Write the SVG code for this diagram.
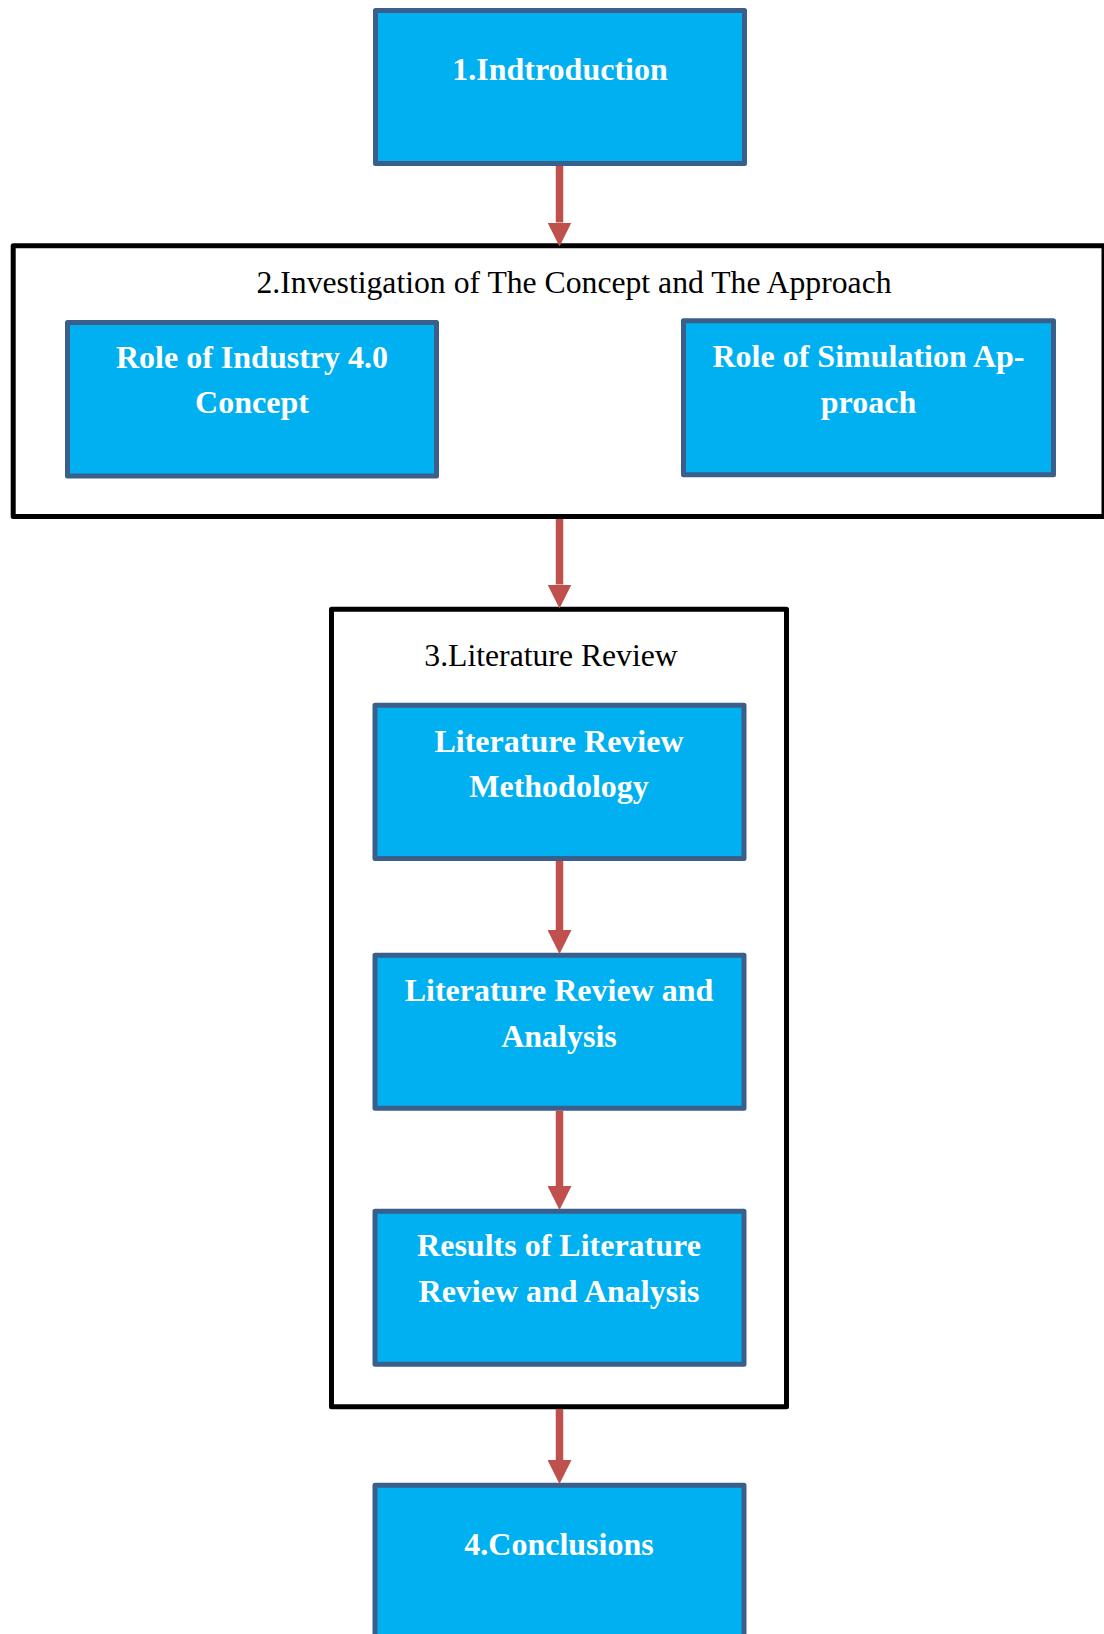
<svg xmlns="http://www.w3.org/2000/svg" width="1104" height="1634" viewBox="0 0 1104 1634">
  <style>
    .box { fill: #00B0F0; stroke: #3A5F8B; stroke-width: 5; stroke-linejoin: round; }
    .frame { fill: #FFFFFF; stroke: #000000; stroke-width: 5; stroke-linejoin: round; }
    .lbl { font-family: "Liberation Serif", "Times New Roman", serif; font-weight: bold; font-size: 32px; fill: #FFFFFF; text-anchor: middle; }
    .ttl { font-family: "Liberation Serif", "Times New Roman", serif; font-size: 31.7px; fill: #000000; }
    .conn { stroke: #C0504D; stroke-width: 7.5; fill: none; }
  </style>
  <defs>
    <marker id="head" markerUnits="userSpaceOnUse" markerWidth="24" markerHeight="24" viewBox="0 0 24 24" refX="0" refY="12" orient="auto">
      <path d="M0,0 L24,12 L0,24 Z" fill="#C0504D"/>
    </marker>
  </defs>
  <rect width="1104" height="1634" fill="#FFFFFF"/>

  <!-- section frames -->
  <g id="section-2">
    <rect class="frame" x="13.2" y="245.8" width="1090.8" height="270.7"/>
    <text class="ttl" x="256.5" y="293.3">2.Investigation of The Concept and The Approach</text>
  </g>
  <g id="section-3">
    <rect class="frame" x="331.5" y="609.2" width="455" height="797.6"/>
    <text class="ttl" x="551" y="665.7" text-anchor="middle">3.Literature Review</text>
  </g>

  <!-- nodes -->
  <g id="introduction">
    <rect class="box" x="375.5" y="10.5" width="369" height="153"/>
    <text class="lbl" x="560" y="80">1.Indtroduction</text>
  </g>
  <g id="industry-concept">
    <rect class="box" x="67.5" y="322.5" width="369" height="153.5"/>
    <text class="lbl" x="252" y="368.3">Role of Industry 4.0</text>
    <text class="lbl" x="252" y="413.3">Concept</text>
  </g>
  <g id="simulation-approach">
    <rect class="box" x="683.5" y="320.8" width="370" height="154"/>
    <text class="lbl" x="868.5" y="366.7">Role of Simulation Ap-</text>
    <text class="lbl" x="868.5" y="413.3">proach</text>
  </g>
  <g id="review-methodology">
    <rect class="box" x="375" y="705.2" width="369" height="153.3"/>
    <text class="lbl" x="559" y="751.7">Literature Review</text>
    <text class="lbl" x="559" y="796.7">Methodology</text>
  </g>
  <g id="review-analysis">
    <rect class="box" x="375" y="955.2" width="369" height="153"/>
    <text class="lbl" x="559" y="1000.7">Literature Review and</text>
    <text class="lbl" x="559" y="1046.7">Analysis</text>
  </g>
  <g id="review-results">
    <rect class="box" x="375" y="1211.2" width="369" height="153"/>
    <text class="lbl" x="559" y="1256">Results of Literature</text>
    <text class="lbl" x="559" y="1302.3">Review and Analysis</text>
  </g>
  <g id="conclusions">
    <rect class="box" x="375" y="1485.2" width="369" height="200"/>
    <text class="lbl" x="559" y="1555">4.Conclusions</text>
  </g>

  <!-- connectors -->
  <g id="connectors">
    <line class="conn" x1="559.5" y1="166" x2="559.5" y2="222.5" marker-end="url(#head)"/>
    <line class="conn" x1="559.5" y1="519" x2="559.5" y2="584.5" marker-end="url(#head)"/>
    <line class="conn" x1="559.5" y1="861" x2="559.5" y2="930" marker-end="url(#head)"/>
    <line class="conn" x1="559.5" y1="1110.7" x2="559.5" y2="1186" marker-end="url(#head)"/>
    <line class="conn" x1="559.5" y1="1409" x2="559.5" y2="1460" marker-end="url(#head)"/>
  </g>
</svg>
